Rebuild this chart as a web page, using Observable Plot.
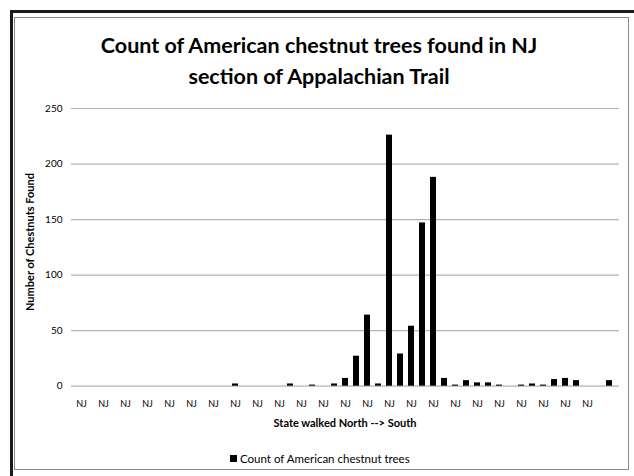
<!DOCTYPE html>
<html>
<head>
<meta charset="utf-8">
<script src="https://cdn.jsdelivr.net/npm/d3@7"></script>
<script src="https://cdn.jsdelivr.net/npm/@observablehq/plot@0.6"></script>
<style>
  html, body { margin: 0; padding: 0; background: #fff; }
  #wrap { position: relative; width: 634px; height: 476px; overflow: hidden; font-family: Lato, "Open Sans", sans-serif; color: #000; }
  #frameDark { position: absolute; left: 10px; top: 10px; width: 630px; height: 470px; border-left: 3px solid #1a1a1a; border-top: 3px solid #1a1a1a; box-sizing: border-box; }
  #frameGray { position: absolute; left: 14px; top: 17px; width: 615px; height: 453px; border: 1.5px solid #8a8a8a; box-sizing: border-box; }
  #title { position: absolute; left: 0; width: 638px; top: 30px; text-align: center; font-weight: bold; font-size: 21.5px; line-height: 31px; }
  #chart { position: absolute; left: 0; top: 0; }
  #ytitle { position: absolute; left: 29px; top: 242px; transform: translate(-50%, -50%) rotate(-90deg); font-weight: bold; font-size: 11px; white-space: nowrap; }
  #xtitle { position: absolute; left: 345px; top: 416px; transform: translateX(-50%); font-weight: bold; font-size: 11px; white-space: nowrap; }
  #legend { position: absolute; left: 230px; top: 452px; font-size: 11.5px; white-space: nowrap; display: flex; align-items: center; }
  #legend .sw { display: inline-block; width: 7px; height: 7px; background: #000; margin-right: 3px; }
</style>
</head>
<body>
<div id="wrap">
  <div id="frameDark"></div>
  <div id="frameGray"></div>
  <div id="title">Count of American chestnut trees found in NJ<br>section of Appalachian Trail</div>
  <div id="chart"></div>
  <div id="ytitle">Number of Chestnuts Found</div>
  <div id="xtitle">State walked North --&gt; South</div>
  <div id="legend"><span class="sw"></span>Count of American chestnut trees</div>
</div>
<script>
// Category labels (one per segment walked, north to south); last one blank
const states = [
  "NJ","NJ","NJ","NJ","NJ","NJ","NJ","NJ","NJ","NJ",
  "NJ","NJ","NJ","NJ","NJ","NJ","NJ","NJ","NJ","NJ",
  "NJ","NJ","NJ","NJ","NJ","NJ","NJ","NJ","NJ","NJ",
  "NJ","NJ","NJ","NJ","NJ","NJ","NJ","NJ","NJ","NJ",
  "NJ","NJ","NJ","NJ","NJ","NJ","NJ","NJ",""
];
// Count of American chestnut trees per segment
const counts = [
  0,0,0,0,0,0,0,0,0,0,
  0,0,0,0,2,0,0,0,0,2,
  0,1,0,2,7,27,64,2,226,29,
  54,147,188,7,1,5,3,3,1,0,
  1,2,1,6,7,5,0,0,5
];
const yTicks = [0, 50, 100, 150, 200, 250];

const data = counts.map((v, i) => ({i, state: states[i], count: v}));
const xTicks = data.filter(d => d.i % 2 === 0 && d.state !== "").map(d => d.i);

const H = 440;
const chart = Plot.plot({
  width: 634,
  height: H,
  marginLeft: 71,
  marginRight: 15,
  marginTop: 108,
  marginBottom: H - 385.7,
  style: {fontFamily: "Lato, 'Open Sans', sans-serif", background: "transparent", color: "#000"},
  x: {type: "band", domain: data.map(d => d.i), padding: 0.47, align: 0.5},
  y: {domain: [0, 250]},
  marks: [
    Plot.gridY(yTicks, {stroke: "#b4b4b4", strokeOpacity: 1, strokeWidth: 1.2}),
    Plot.barY(data, {x: "i", y: "count", fill: "#000"}),
    Plot.axisY(yTicks, {tickSize: 0, tickPadding: 9, fontSize: 10, label: null}),
    Plot.axisX(xTicks, {tickSize: 0, tickPadding: 14, fontSize: 9, label: null, tickFormat: i => states[i]})
  ]
});
document.getElementById("chart").appendChild(chart);
</script>
</body>
</html>
